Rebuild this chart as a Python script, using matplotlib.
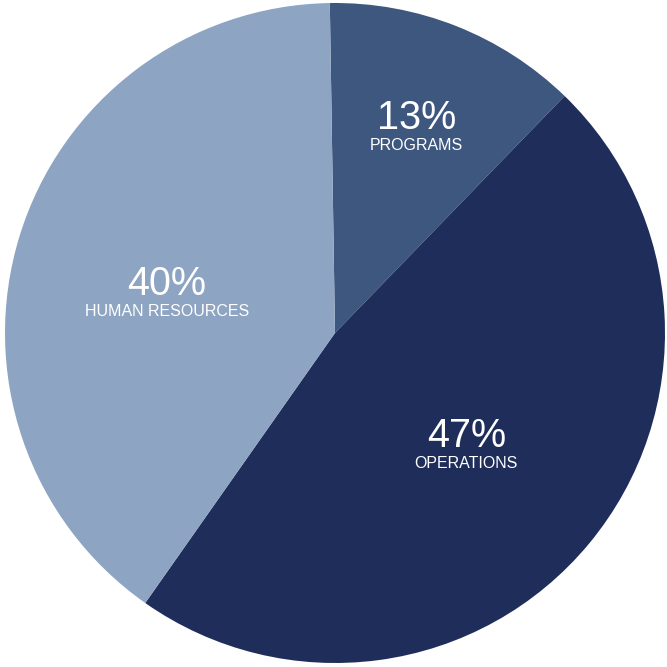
import numpy as np
import matplotlib
matplotlib.use("Agg")
import matplotlib.pyplot as plt

# budget split, clockwise from 12 o'clock
categories = ["PROGRAMS", "OPERATIONS", "HUMAN RESOURCES"]
shares = [12.5, 47.5, 40.0]
pct_labels = ["13%", "47%", "40%"]
colors = ["#3d577f", "#1f2d5b", "#8ea4c3"]

# label placement (fraction of radius, angle in degrees)
label_r = [0.655, 0.535, 0.52]
label_ang = [67.8, -41.9, 168.5]

fig = plt.figure(figsize=(6.67, 6.67), dpi=100)
ax = fig.add_axes([5 / 667, 4 / 667, 660 / 667, 660 / 667])

wedges, _ = ax.pie(shares, colors=colors, startangle=90.9, counterclock=False,
                   radius=1.0, wedgeprops=dict(linewidth=0))

font = ["Liberation Sans", "DejaVu Sans"]
for cat, pct, r, a in zip(categories, pct_labels, label_r, label_ang):
    x, y = r * np.cos(np.deg2rad(a)), r * np.sin(np.deg2rad(a))
    ax.text(x, y + 0.012, pct, ha="center", va="baseline", color="white",
            fontsize=28.5, family=font)
    ax.text(x, y - 0.015, cat, ha="center", va="top", color="white",
            fontsize=11.5, family=font)

ax.set_xlim(-1, 1)
ax.set_ylim(-1, 1)
ax.set_aspect("equal")
ax.axis("off")

fig.savefig("out.png", dpi=100, facecolor="white")
